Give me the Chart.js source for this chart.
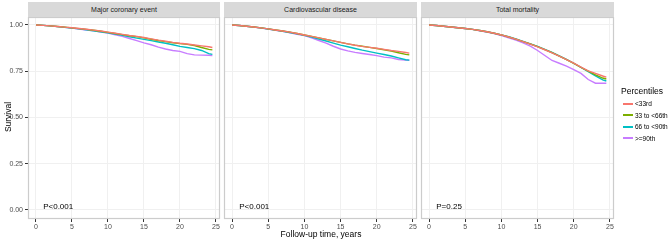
<!DOCTYPE html>
<html><head><meta charset="utf-8">
<script src="https://cdn.jsdelivr.net/npm/chart.js@4"></script>
<style>
body{margin:0;width:670px;height:241px;background:#fff;position:relative;overflow:hidden;font-family:"Liberation Sans",Arial,sans-serif}
.strip{position:absolute;top:2px;height:15px;background:#d9d9d9;color:#1a1a1a;font-size:7px;line-height:15px;text-align:center}
.cv{position:absolute;top:17px;height:218px}
#ytitle{position:absolute;left:-14px;top:112px;width:44px;text-align:center;font-size:8.5px;color:#000;transform:rotate(-90deg)}
#xtitle{position:absolute;left:220px;top:229px;width:202px;text-align:center;font-size:8.5px;color:#000}
#legend{position:absolute;left:621px;top:86px;width:49px;font-size:6.5px;color:#000;white-space:nowrap}
#legend .t{font-size:8.5px;margin-bottom:2px}
#legend .it{height:11.5px;line-height:11.5px;display:flex;align-items:center;white-space:nowrap}
#legend .k{width:10px;height:2px;margin-right:2px;margin-left:2px;flex:none}
</style>
</head><body>
<div class="strip" style="left:28px;width:192px">Major coronary event</div>
<div class="strip" style="left:224px;width:193px">Cardiovascular disease</div>
<div class="strip" style="left:421px;width:193px">Total mortality</div>
<div class="cv" style="left:0;width:224px"><canvas id="c1"></canvas></div>
<div class="cv" style="left:220px;width:201px"><canvas id="c2"></canvas></div>
<div class="cv" style="left:417px;width:201px"><canvas id="c3"></canvas></div>
<div id="ytitle">Survival</div>
<div id="xtitle">Follow-up time, years</div>
<div id="legend"><div class="t">Percentiles</div></div>
<script>
const years = [0,1,2,3,4,5,6,7,8,9,10,11,12,13,14,15,16,17,18,19,20,21,22,23,24,24.5];
const groups = ["<33rd","33 to <66th","66 to <90th",">=90th"];
const colors = ["#F8766D","#7CAE00","#00BFC4","#C77CFF"];
const xTicks = [0,5,10,15,20,25];
const yTicks = [0,0.25,0.5,0.75,1];
const panels = ["Major coronary event","Cardiovascular disease","Total mortality"];
const pValues = ["P<0.001","P<0.001","P=0.25"];

// Major coronary event
const mce_q1 = [1,.998,.995,.992,.988,.985,.981,.977,.972,.967,.961,.955,.949,.943,.938,.932,.925,.918,.912,.906,.901,.897,.892,.887,.882,.878];
const mce_q2 = [1,.998,.995,.992,.988,.984,.980,.976,.971,.966,.960,.954,.948,.942,.937,.930,.923,.916,.910,.904,.899,.895,.889,.878,.868,.865];
const mce_q3 = [1,.998,.995,.991,.987,.983,.979,.974,.969,.963,.957,.951,.944,.936,.929,.922,.915,.908,.901,.893,.884,.878,.872,.862,.845,.841];
const mce_q4 = [1,.998,.995,.991,.987,.983,.978,.973,.968,.962,.956,.947,.938,.927,.915,.903,.893,.880,.870,.862,.857,.845,.838,.837,.836,.835];
// Cardiovascular disease
const cvd_q1 = [1,.997,.993,.989,.984,.979,.973,.967,.961,.954,.946,.938,.930,.922,.914,.906,.898,.890,.884,.879,.874,.868,.862,.857,.851,.848];
const cvd_q2 = [1,.997,.993,.989,.984,.979,.973,.967,.961,.954,.946,.938,.930,.922,.914,.906,.898,.891,.885,.879,.873,.866,.859,.850,.841,.838];
const cvd_q3 = [1,.997,.993,.989,.984,.978,.972,.966,.959,.952,.944,.934,.924,.913,.902,.891,.882,.873,.864,.856,.848,.840,.832,.822,.812,.810];
const cvd_q4 = [1,.997,.993,.988,.983,.978,.971,.965,.958,.950,.942,.930,.916,.902,.885,.870,.860,.852,.846,.840,.834,.826,.822,.813,.810,.809];
// Total mortality
const tm_q1 = [1,.997,.993,.989,.985,.981,.976,.970,.963,.955,.946,.935,.923,.910,.896,.882,.866,.849,.831,.813,.793,.772,.752,.738,.724,.718];
const tm_q2 = [1,.997,.993,.989,.985,.981,.976,.970,.963,.955,.946,.935,.923,.910,.897,.883,.867,.850,.832,.813,.792,.770,.750,.730,.713,.708];
const tm_q3 = [1,.997,.993,.989,.985,.981,.976,.970,.963,.955,.946,.936,.924,.911,.898,.884,.868,.851,.833,.814,.793,.771,.748,.725,.703,.697];
const tm_q4 = [1,.997,.993,.989,.985,.981,.976,.969,.962,.953,.943,.931,.918,.903,.885,.862,.835,.808,.793,.778,.758,.738,.705,.685,.685,.685];

const panelData = [[mce_q1,mce_q2,mce_q3,mce_q4],[cvd_q1,cvd_q2,cvd_q3,cvd_q4],[tm_q1,tm_q2,tm_q3,tm_q4]];

const leg = document.getElementById('legend');
groups.forEach((g,i)=>{
  const d=document.createElement('div');d.className='it';
  const k=document.createElement('span');k.className='k';k.style.background=colors[i];
  d.appendChild(k);d.appendChild(document.createTextNode(g));
  leg.appendChild(d);
});

const fontFam = '"Liberation Sans", Arial, sans-serif';

function makePanel(id, idx, showY){
  const pText = pValues[idx];
  const decor = {
    id:'decor'+idx,
    afterDatasetsDraw(chart){
      const {ctx, chartArea:a, scales} = chart;
      ctx.save();
      ctx.strokeStyle='#cccccc'; ctx.lineWidth=1.2;
      ctx.strokeRect(a.left+0.5,a.top+0.5,a.right-a.left-1,a.bottom-a.top-1);
      ctx.fillStyle='#000'; ctx.font='8px '+fontFam; ctx.textBaseline='middle'; ctx.textAlign='left';
      ctx.fillText(pText, scales.x.getPixelForValue(1), scales.y.getPixelForValue(0.016));
      ctx.restore();
    }
  };
  return new Chart(document.getElementById(id), {
    type:'line',
    data:{datasets: panelData[idx].map((arr,i)=>({
      label: groups[i],
      data: years.map((t,j)=>({x:t,y:arr[j]})),
      borderColor: colors[i], backgroundColor: colors[i],
      borderWidth: 1.4, pointRadius:0, tension:0, fill:false
    }))},
    options:{
      responsive:true, maintainAspectRatio:false, animation:false,
      layout:{padding:{top:0,bottom:0,left:0,right:4}},
      plugins:{legend:{display:false},tooltip:{enabled:false}},
      scales:{
        x:{type:'linear', min:-1.11, max:25.56,
          afterBuildTicks(s){ s.ticks = xTicks.map(v=>({value:v})); },
          afterFit(s){ s.height = 16; s.paddingLeft = 0; s.paddingRight = 0; },
          grid:{color:'#f0f0f0', lineWidth:1, tickLength:3, tickColor:'#333'},
          border:{display:false},
          ticks:{font:{size:7,family:fontFam}, color:'#4d4d4d', padding:1, maxRotation:0, autoSkip:false}
        },
        y:{type:'linear', min:-0.049, max:1.043,
          afterBuildTicks(s){ s.ticks = yTicks.map(v=>({value:v})); },
          afterFit(s){ s.width = showY ? 28 : 4; s.paddingTop = 0; s.paddingBottom = 0; },
          grid:{color:'#f0f0f0', lineWidth:1, tickLength: showY?3:0, tickColor:'#333', drawTicks: showY},
          border:{display:false},
          ticks:{display:showY, font:{size:7,family:fontFam}, color:'#4d4d4d', padding:2,
            callback:v=>v.toFixed(2)}
        }
      }
    },
    plugins:[decor]
  });
}
makePanel('c1',0,true);
makePanel('c2',1,false);
makePanel('c3',2,false);
</script>
</body></html>
